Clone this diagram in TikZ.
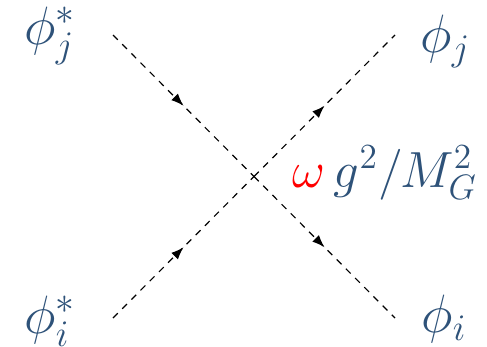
\documentclass[tikz,border=0pt]{standalone}
\usepackage{xcolor}
\usepackage{tikz}
\usetikzlibrary{arrows.meta,decorations.markings}
\definecolor{fieldblue}{HTML}{2E5279}
\definecolor{couplingred}{HTML}{FF0000}

\begin{document}
\begin{tikzpicture}[x=0.384pt,y=-0.384pt,
  scalarline/.style={draw=black,dash pattern=on 2.6pt off 2.4pt,line width=0.45pt,postaction={decorate},
    decoration={markings,mark=at position 0.5 with {\arrow{Latex[length=4.8pt,width=3.6pt]}}}},
  fieldlabel/.style={text=fieldblue,inner sep=0pt,anchor=base west,font=\huge}]
\useasboundingbox (0,0) rectangle (487,346);
% external legs
\coordinate (jin) at (113,35);
\coordinate (jout) at (395,35);
\coordinate (iin) at (113,318);
\coordinate (iout) at (395,318);
\coordinate (vertex) at (254,176.5);
\node[fieldlabel] (phiJstar) at (24,44) {$\phi^*_j$};
\node[fieldlabel] (phiJ) at (420,52) {$\phi_j$};
\node[fieldlabel] (phiIstar) at (24,333) {$\phi^*_i$};
\node[fieldlabel] (phiI) at (421,332) {$\phi_i$};
\node[fieldlabel,font=\LARGE,scale=1.13,transform shape] (coupling) at (292,187) {$\textcolor{couplingred}{\omega}\, g^2/M_G^2$};
% propagators
\draw[scalarline] (jin) -- (vertex);
\draw[scalarline] (vertex) -- (iout);
\draw[scalarline] (iin) -- (vertex);
\draw[scalarline] (vertex) -- (jout);
\end{tikzpicture}
\end{document}
